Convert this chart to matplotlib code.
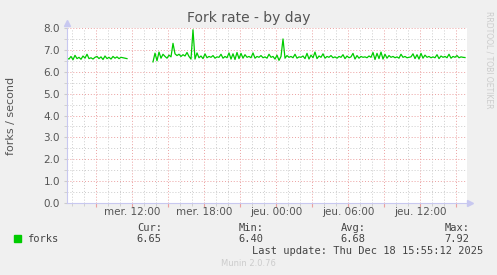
import numpy as np
import matplotlib
matplotlib.use("Agg")
import matplotlib.pyplot as plt

# forks per second, one sample every 10 minutes, starting Wed 06:35
seg1 = [6.62, 6.58, 6.70, 6.55, 6.75, 6.60, 6.66, 6.57, 6.72, 6.62,
        6.80, 6.60, 6.64, 6.58, 6.66, 6.70, 6.60, 6.68, 6.56, 6.72,
        6.60, 6.66, 6.58, 6.70, 6.62, 6.68, 6.60, 6.66, 6.64, 6.62, 6.60]
gap_len = 12
seg2 = [6.45, 6.85, 6.50, 6.90, 6.62, 6.80, 6.70, 6.62, 6.76, 6.68,
        7.30, 6.82, 6.74, 6.80, 6.70, 6.78, 6.72, 6.88, 6.70, 6.58,
        7.92, 6.58, 6.86, 6.64, 6.72, 6.60, 6.82, 6.64, 6.70, 6.66,
        6.74, 6.62, 6.68, 6.66, 6.80, 6.62, 6.70, 6.64, 6.86, 6.58,
        6.82, 6.56, 6.88, 6.60, 6.84, 6.62, 6.78, 6.66, 6.70, 6.64,
        6.86, 6.62, 6.70, 6.66, 6.74, 6.64, 6.68, 6.62, 6.80, 6.66,
        6.70, 6.58, 6.76, 6.52, 6.70, 7.50, 6.62, 6.74, 6.66, 6.70,
        6.64, 6.80, 6.62, 6.68, 6.66, 6.72, 6.60, 6.84, 6.58, 6.76,
        6.64, 6.90, 6.60, 6.72, 6.66, 6.82, 6.62, 6.70, 6.66, 6.74,
        6.64, 6.68, 6.62, 6.70, 6.66, 6.78, 6.60, 6.72, 6.64, 6.68,
        6.84, 6.58, 6.74, 6.62, 6.70, 6.66, 6.68, 6.64, 6.72, 6.66,
        6.88, 6.56, 6.84, 6.60, 6.90, 6.58, 6.80, 6.62, 6.74, 6.66,
        6.70, 6.64, 6.68, 6.62, 6.80, 6.66, 6.70, 6.64, 6.66, 6.68,
        6.82, 6.60, 6.78, 6.58, 6.84, 6.62, 6.76, 6.66, 6.70, 6.64,
        6.68, 6.64, 6.78, 6.60, 6.72, 6.66, 6.70, 6.64, 6.80, 6.62,
        6.70, 6.66, 6.74, 6.64, 6.68, 6.66, 6.65]

t_start = 6 + 35 / 60.0      # hours since Wed 00:00
t_end = t_start + 400 * 5 / 60.0
tick_hours = [12, 18, 24, 30, 36]
tick_labels = ["mer. 12:00", "mer. 18:00", "jeu. 00:00", "jeu. 06:00", "jeu. 12:00"]

legend_cols = ["Cur:", "Min:", "Avg:", "Max:"]
legend_vals = ["6.65", "6.40", "6.68", "7.92"]

values = np.array(seg1 + [np.nan] * gap_len + seg2)
hours = t_start + np.arange(len(values)) / 6.0

fig = plt.figure(figsize=(4.97, 2.75), dpi=100, facecolor="#f0f0f0")
ax = fig.add_axes([67 / 497, 1 - 203 / 275, 400 / 497, 175 / 275])
ax.set_facecolor("white")

ax.plot(hours, values, color="#00cc00", lw=0.9)

ax.set_xlim(t_start, t_end)
ax.set_ylim(0, 8)

# grids: major red, minor grey
ax.set_yticks(np.arange(0, 8.1, 1.0))
ax.set_yticks(np.arange(0.5, 8, 1.0), minor=True)
ax.set_yticklabels(["%.1f" % v for v in np.arange(0, 8.1, 1.0)])
ax.set_xticks(np.arange(9, 40, 3), minor=False)
ax.set_xticks(np.arange(7, 40, 1), minor=True)
ax.grid(which="minor", color="#cccccc", ls=(0, (1, 2)), lw=0.7)
ax.grid(which="major", color="#eba0a0", ls=(0, (1, 2)), lw=0.7)
ax.set_axisbelow(True)
ax.set_xticklabels([])
for h, lab in zip(tick_hours, tick_labels):
    ax.text(h, -0.42, lab, ha="center", va="center", fontsize=7.5,
            color="#555555", transform=ax.transData)

ax.tick_params(axis="y", which="major", length=2, color="#cccccc",
               labelsize=7.5, labelcolor="#555555", pad=3)
ax.tick_params(axis="y", which="minor", length=2, color="#cccccc")
ax.tick_params(axis="x", which="major", length=3, color="#eba0a0")
ax.tick_params(axis="x", which="minor", length=2, color="#cccccc")

for s in ["top", "right"]:
    ax.spines[s].set_visible(False)
for s in ["left", "bottom"]:
    ax.spines[s].set_color("#c8c8f0")
    ax.spines[s].set_linewidth(0.8)
ax.plot([0], [1.03], marker="^", color="#c8c8f0", ms=4, transform=ax.transAxes, clip_on=False)
ax.plot([1.008], [0], marker=">", color="#c8c8f0", ms=4, transform=ax.transAxes, clip_on=False)

ax.set_ylabel("forks / second", fontsize=8, color="#555555", labelpad=20)
fig.text(0.5, 1 - 18 / 275, "Fork rate - by day", ha="center", va="center",
         fontsize=10, color="#555555")
fig.text(489 / 497, 1 - 60 / 275, "RRDTOOL / TOBI OETIKER", rotation=270,
         ha="center", va="center", fontsize=5.5, color="#cccccc")

# legend block
mono = "DejaVu Sans Mono"
fig.patches.append(plt.Rectangle((14 / 497, 1 - 242 / 275), 7 / 497, 7 / 275,
                                 transform=fig.transFigure, color="#00cc00"))
fig.text(27 / 497, 1 - 239 / 275, "forks", fontsize=7.5, family=mono,
         color="#444444", va="center")
col_x = [162, 264, 366, 470]
for cx, c, v in zip(col_x, legend_cols, legend_vals):
    fig.text(cx / 497, 1 - 228 / 275, c, fontsize=7.5, family=mono,
             color="#444444", ha="right", va="center")
    fig.text((cx - 1) / 497, 1 - 239 / 275, v, fontsize=7.5, family=mono,
             color="#444444", ha="right", va="center")
fig.text(483 / 497, 1 - 251 / 275, "Last update: Thu Dec 18 15:55:12 2025",
         fontsize=7.5, family=mono, color="#444444", ha="right", va="center")
fig.text(0.5, 1 - 264 / 275, "Munin 2.0.76", fontsize=6, color="#cccccc",
         ha="center", va="center")

fig.savefig("out.png", dpi=100, facecolor=fig.get_facecolor())
